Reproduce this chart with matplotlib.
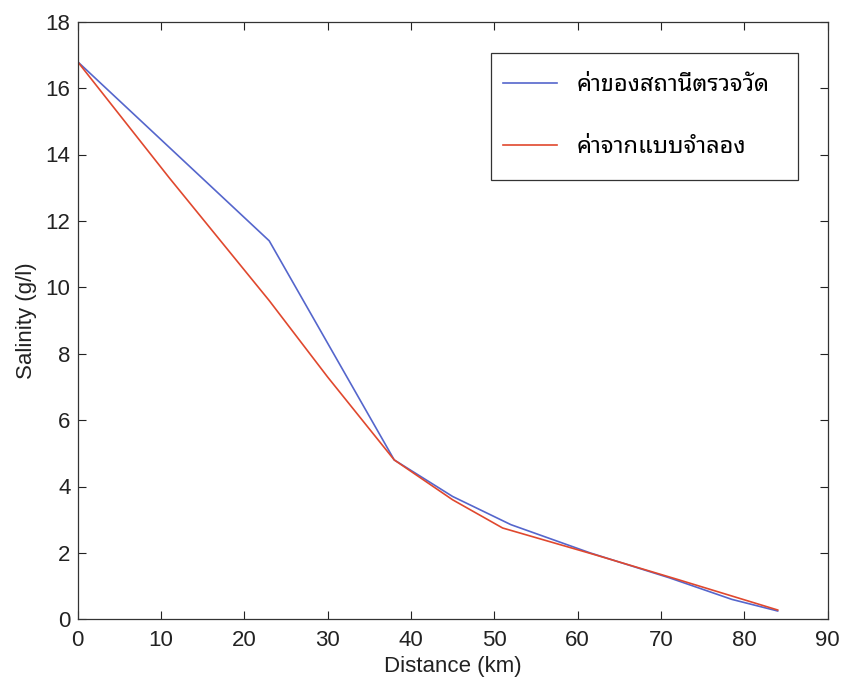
import matplotlib
matplotlib.use("Agg")
import matplotlib.pyplot as plt
from matplotlib import font_manager
from matplotlib.ft2font import FT2Font
from matplotlib.patches import Rectangle

# ---- data ----
obs_x = [0, 23, 38, 45, 52, 61.5, 71, 78.5, 84]
obs_y = [16.8, 11.4, 4.8, 3.7, 2.85, 2.0, 1.25, 0.6, 0.25]
mod_x = [0, 11, 23, 30, 38, 45, 51, 62, 72, 84]
mod_y = [16.8, 13.3, 9.6, 7.3, 4.8, 3.6, 2.75, 1.95, 1.2, 0.28]
labels = ["ค่าของสถานีตรวจวัด", "ค่าจากแบบจำลอง"]
xticks = list(range(0, 91, 10))
yticks = list(range(0, 19, 2))

# ---- find a font with Thai glyphs ----
thai_font = None
cands = []
for fe in font_manager.fontManager.ttflist:
    try:
        f = FT2Font(fe.fname)
        cm = f.get_charmap()
        if ord("ค") in cm and ord("่") in cm:
            cands.append(fe.name)
    except Exception:
        pass
pref = ["Tahoma", "Noto Sans Thai Looped", "IBM Plex Sans Thai Looped", "Noto Sans Thai", "Loma"]
for p in pref:
    if p in cands:
        thai_font = p
        break
if thai_font is None and cands:
    thai_font = cands[0]

plt.rcParams["font.family"] = ["Liberation Sans", "DejaVu Sans"]
thai_family = [thai_font, "DejaVu Sans"] if thai_font else ["DejaVu Sans"]

fig = plt.figure(figsize=(8.41, 6.79), dpi=100)
ax = fig.add_axes([77.5 / 841, 1 - 619.3 / 679, 750.2 / 841, 597.6 / 679])

ax.plot(obs_x, obs_y, color="#5566cc", lw=1.2, label=labels[0])
ax.plot(mod_x, mod_y, color="#e0482e", lw=1.2, label=labels[1])

ax.set_xlim(0, 90)
ax.set_ylim(0, 18)
ax.set_xticks(xticks)
ax.set_yticks(yticks)
ax.tick_params(direction="in", top=True, right=True, length=6, width=0.8,
               labelsize=16, colors="#222222")
ax.tick_params(axis="x", pad=8)
ax.tick_params(axis="y", pad=5)
for s in ax.spines.values():
    s.set_linewidth(0.9)
    s.set_color("#333333")
ax.set_xlabel("Distance (km)", fontsize=16, color="#222222", labelpad=3)
ax.set_ylabel("Salinity (g/l)", fontsize=16, color="#222222", labelpad=6)

# legend frame
ax.add_patch(Rectangle((0.551, 0.735), 0.409, 0.213, transform=ax.transAxes,
                       facecolor="white", edgecolor="#333333", lw=0.9, zorder=4))
leg = ax.legend(loc="center left", bbox_to_anchor=(0.567, 0.842),
                prop={"family": thai_family, "size": 17},
                frameon=False, handlelength=2.29, handletextpad=0.85,
                labelspacing=1.6, borderpad=0, borderaxespad=0)
leg.set_zorder(5)

fig.savefig("out.png", dpi=100, facecolor="white")
